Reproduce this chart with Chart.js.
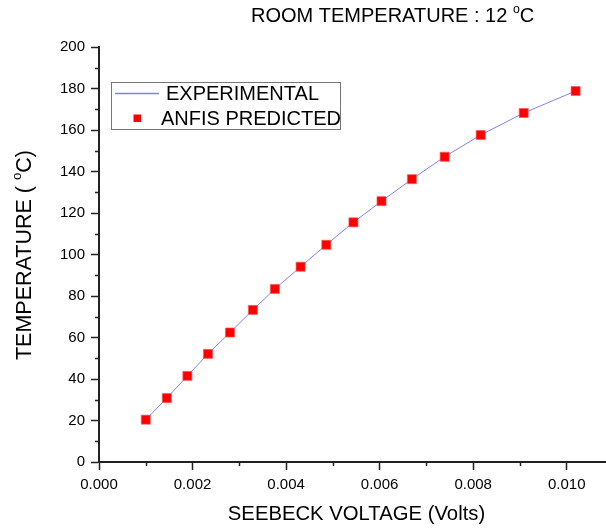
<!DOCTYPE html>
<html>
<head>
<meta charset="utf-8">
<script src="https://cdn.jsdelivr.net/npm/chart.js@4.4.0/dist/chart.umd.min.js"></script>
<style>
    html, body { margin: 0; padding: 0; background: #fff; }
    #wrap { width: 606px; height: 531px; }
</style>
</head>
<body>
<div id="wrap"><canvas id="grafico"></canvas></div>
<script>
// Seebeck voltage (V) against junction temperature (°C)
const voltage = [0.00100, 0.00145, 0.00189, 0.00233, 0.00280, 0.00329, 0.00376, 0.00431,
                 0.00486, 0.00544, 0.00604, 0.00669, 0.00739, 0.00816, 0.00908, 0.01019];
const experimentalTemp = [20.4, 30.8, 41.5, 52.1, 62.4, 73.3, 83.4, 94.1,
                          104.7, 115.5, 125.7, 136.3, 147.1, 157.6, 168.2, 178.8];
const anfisTemp = [20.4, 30.8, 41.5, 52.1, 62.4, 73.3, 83.4, 94.1,
                   104.7, 115.5, 125.7, 136.3, 147.1, 157.6, 168.2, 178.8];
const roomTemp = 12;

const FONT = "Arial, 'Liberation Sans', sans-serif";
const LINE_COLOR = "#8080ff";
const AXIS_COLOR = "#222";

const toPoints = (xs, ys) => xs.map((x, i) => ({ x: x, y: ys[i] }));

// x ticks every 0.001, labelled every 0.002; y ticks every 10, labelled every 20
const isMajorX = v => Math.round(v * 1000) % 2 === 0;
const isMajorY = v => Math.round(v) % 20 === 0;

// minor tick marks (shorter than the major ones)
const minorTicks = {
    id: "minorTicks",
    afterDraw(chart) {
        const ctx = chart.ctx;
        const sx = chart.scales.x, sy = chart.scales.y;
        ctx.save();
        ctx.strokeStyle = AXIS_COLOR;
        ctx.lineWidth = 1.5;
        ctx.beginPath();
        sx.ticks.forEach(t => {
            if (isMajorX(t.value)) return;
            const px = Math.round(sx.getPixelForValue(t.value)) + 0.5;
            ctx.moveTo(px, sx.top);
            ctx.lineTo(px, sx.top + 4);
        });
        sy.ticks.forEach(t => {
            if (isMajorY(t.value)) return;
            const py = Math.round(sy.getPixelForValue(t.value)) + 0.5;
            ctx.moveTo(sy.right, py);
            ctx.lineTo(sy.right - 4, py);
        });
        ctx.stroke();
        ctx.restore();
    }
};

// draws text pieces in a row, a piece with sup:true is small and raised
function drawPieces(ctx, pieces, x, y, size) {
    let cx = x;
    pieces.forEach(p => {
        const s = p.sup ? size * 0.62 : size;
        ctx.font = `${s}px ${FONT}`;
        ctx.fillText(p.text, cx, p.sup ? y - size * 0.45 : y);
        cx += ctx.measureText(p.text).width;
    });
}
function piecesWidth(ctx, pieces, size) {
    let w = 0;
    pieces.forEach(p => {
        ctx.font = `${p.sup ? size * 0.62 : size}px ${FONT}`;
        w += ctx.measureText(p.text).width;
    });
    return w;
}

const labelsAndLegend = {
    id: "labelsAndLegend",
    afterDraw(chart) {
        const ctx = chart.ctx;
        ctx.save();
        ctx.fillStyle = "#000";
        ctx.textBaseline = "alphabetic";
        ctx.textAlign = "left";

        // title
        drawPieces(ctx, [
            { text: `ROOM TEMPERATURE : ${roomTemp} ` },
            { text: "o", sup: true },
            { text: "C" }
        ], 251, 22, 20);

        // x axis title
        const xTitle = [{ text: "SEEBECK VOLTAGE (Volts)" }];
        const xw = piecesWidth(ctx, xTitle, 20.3);
        drawPieces(ctx, xTitle, 356.5 - xw / 2, 520, 20.3);

        // y axis title
        const yTitle = [{ text: "TEMPERATURE ( " }, { text: "o", sup: true }, { text: "C)" }];
        const yw = piecesWidth(ctx, yTitle, 21.5);
        ctx.save();
        ctx.translate(31, 255);
        ctx.rotate(-Math.PI / 2);
        drawPieces(ctx, yTitle, -yw / 2, 0, 21.5);
        ctx.restore();

        // legend box
        ctx.strokeStyle = "#777";
        ctx.lineWidth = 1;
        ctx.strokeRect(111.5, 82.5, 229, 47);
        ctx.strokeStyle = LINE_COLOR;
        ctx.lineWidth = 1.5;
        ctx.beginPath();
        ctx.moveTo(115, 93.5);
        ctx.lineTo(159, 93.5);
        ctx.stroke();
        ctx.fillStyle = "#ff0000";
        ctx.fillRect(133.5, 114.5, 7.5, 7.5);
        ctx.fillStyle = "#000";
        ctx.font = `20px ${FONT}`;
        ctx.fillText(chart.data.datasets[0].label, 166, 100);
        ctx.fillText(chart.data.datasets[1].label, 161, 125);
        ctx.restore();
    }
};

const tickFont = { family: FONT, size: 15 };

new Chart(document.getElementById("grafico"), {
    type: "scatter",
    data: {
        datasets: [
            {
                label: "EXPERIMENTAL",
                data: toPoints(voltage, experimentalTemp),
                showLine: true,
                borderColor: LINE_COLOR,
                borderWidth: 1,
                pointRadius: 0,
                order: 2
            },
            {
                label: "ANFIS PREDICTED",
                data: toPoints(voltage, anfisTemp),
                showLine: false,
                pointStyle: "rect",
                pointRadius: 6.4,
                backgroundColor: "#ff0000",
                borderColor: "rgba(255,90,90,0.7)",
                borderWidth: 1,
                order: 1
            }
        ]
    },
    options: {
        responsive: true,
        maintainAspectRatio: false,
        animation: false,
        layout: { autoPadding: false, padding: { top: 47, right: 0, left: 0, bottom: 0 } },
        plugins: {
            legend: { display: false },
            tooltip: { enabled: false },
            title: { display: false }
        },
        scales: {
            x: {
                type: "linear",
                min: 0,
                max: 0.01084,
                afterFit: s => { s.height = 69; },
                border: { color: AXIS_COLOR, width: 2 },
                grid: {
                    drawOnChartArea: false,
                    tickLength: 8,
                    tickWidth: 1.5,
                    tickColor: c => isMajorX(c.tick.value) ? AXIS_COLOR : "rgba(0,0,0,0)"
                },
                ticks: {
                    stepSize: 0.001,
                    includeBounds: false,
                    autoSkip: false,
                    maxRotation: 0,
                    padding: 6,
                    color: "#000",
                    font: tickFont,
                    callback: v => isMajorX(v) ? v.toFixed(3) : ""
                }
            },
            y: {
                min: 0,
                max: 200,
                afterFit: s => { s.width = 99; },
                border: { color: AXIS_COLOR, width: 2 },
                grid: {
                    drawOnChartArea: false,
                    tickLength: 8,
                    tickWidth: 1.5,
                    tickColor: c => isMajorY(c.tick.value) ? AXIS_COLOR : "rgba(0,0,0,0)"
                },
                ticks: {
                    stepSize: 10,
                    autoSkip: false,
                    padding: 6,
                    color: "#000",
                    font: tickFont,
                    callback: v => isMajorY(v) ? v : ""
                }
            }
        }
    },
    plugins: [minorTicks, labelsAndLegend]
});
</script>
</body>
</html>
